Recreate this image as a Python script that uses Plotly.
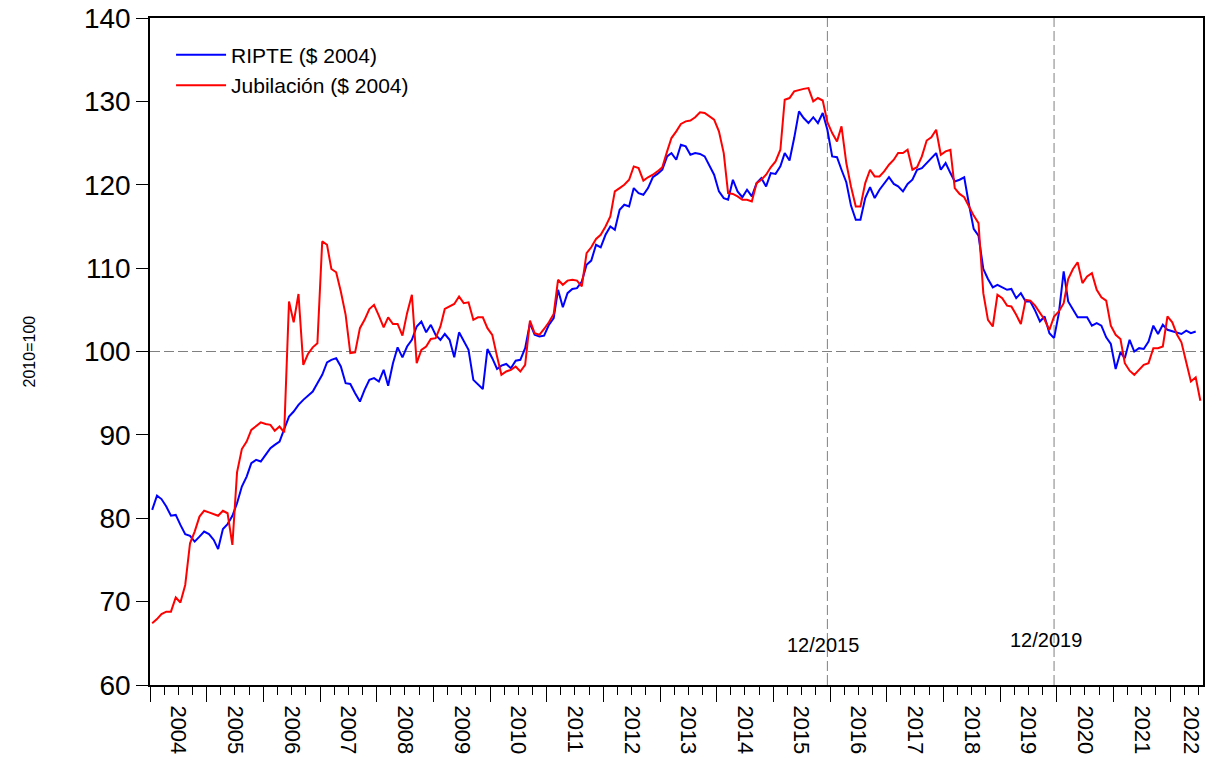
import plotly.graph_objects as go
import pandas as pd

# monthly, 2004M01 - 2022M07, index 2010=100, in constant 2004 pesos
ripte = [
    81.0, 82.7, 82.3, 81.4, 80.3, 80.4, 79.2, 78.1, 77.9, 77.2, 77.8, 78.4,  # 2004
    78.1, 77.4, 76.3, 78.7, 79.3, 80.3, 81.8, 83.8, 85.0, 86.6, 87.0, 86.8,  # 2005
    87.6, 88.4, 88.8, 89.2, 90.7, 92.2, 92.8, 93.6, 94.2, 94.7, 95.2, 96.2,  # 2006
    97.2, 98.7, 99.0, 99.2, 98.2, 96.2, 96.1, 95.0, 94.0, 95.4, 96.6, 96.8,  # 2007
    96.4, 97.8, 95.9, 98.6, 100.5, 99.3, 100.6, 101.4, 103.0, 103.6, 102.3, 103.2,  # 2008
    102.0, 101.4, 102.1, 101.4, 99.3, 102.3, 101.2, 100.2, 96.6, 96.0, 95.5, 100.3,  # 2009
    99.2, 97.9, 98.3, 98.5, 98.0, 98.9, 99.0, 100.4, 103.4, 102.0, 101.8, 101.9,  # 2010
    103.2, 104.0, 107.4, 105.3, 107.0, 107.5, 107.6, 108.4, 110.4, 110.9, 112.8, 112.5,  # 2011
    114.0, 115.0, 114.6, 117.0, 117.6, 117.4, 119.6, 119.0, 118.8, 119.6, 120.9, 121.3,  # 2012
    121.8, 123.4, 123.8, 123.0, 124.8, 124.6, 123.6, 123.8, 123.7, 123.4, 122.2, 121.2,  # 2013
    119.2, 118.4, 118.2, 120.6, 119.2, 118.5, 119.4, 118.6, 120.2, 120.8, 119.8, 121.4,  # 2014
    121.3, 122.2, 123.8, 122.9, 125.6, 128.8, 128.0, 127.4, 128.1, 127.4, 128.6, 126.6,  # 2015
    123.4, 123.3, 121.8, 120.3, 117.5, 115.8, 115.8, 118.4, 119.7, 118.4, 119.4, 120.1,  # 2016
    120.9, 120.1, 119.8, 119.2, 120.1, 120.6, 121.8, 122.0, 122.6, 123.3, 123.8, 121.8,  # 2017
    122.6, 121.4, 120.4, 120.6, 120.9, 117.6, 114.7, 113.9, 109.9, 108.7, 107.7, 108.0,  # 2018
    107.7, 107.4, 107.5, 106.4, 107.0, 106.0, 106.0, 104.9, 103.6, 104.2, 102.2, 101.6,  # 2019
    104.6, 109.6, 106.0, 105.0, 104.1, 104.1, 104.1, 103.1, 103.4, 103.1, 101.7, 100.9,  # 2020
    97.9, 99.9, 99.2, 101.4, 100.0, 100.4, 100.3, 101.2, 103.1, 102.1, 103.2, 102.6,  # 2021
    102.4, 102.2, 102.1, 102.5, 102.2, 102.4, None,  # 2022
]

jubilacion = [
    67.4, 67.9, 68.5, 68.8, 68.8, 70.5, 69.9, 72.0, 77.0, 78.4, 80.2, 80.9,  # 2004
    80.7, 80.5, 80.3, 80.9, 80.6, 76.8, 85.5, 88.3, 89.2, 90.6, 91.1, 91.5,  # 2005
    91.3, 91.2, 90.5, 91.0, 90.3, 106.0, 103.5, 106.9, 98.4, 99.7, 100.5, 101.0,  # 2006
    113.2, 112.8, 109.9, 109.5, 107.2, 104.4, 99.8, 99.9, 102.8, 103.8, 105.1, 105.6,  # 2007
    104.3, 102.9, 104.1, 103.3, 103.3, 101.9, 104.6, 106.8, 98.6, 100.2, 100.6, 101.5,  # 2008
    101.6, 103.0, 105.1, 105.4, 105.7, 106.6, 105.8, 105.9, 103.8, 104.1, 104.1, 102.8,  # 2009
    102.0, 99.4, 97.2, 97.6, 97.8, 98.2, 97.6, 98.4, 103.7, 102.2, 102.0, 102.7,  # 2010
    103.5, 104.5, 108.6, 108.0, 108.5, 108.6, 108.5, 107.8, 111.8, 112.5, 113.5, 114.0,  # 2011
    115.0, 116.2, 119.2, 119.6, 120.0, 120.6, 122.2, 122.0, 120.5, 120.9, 121.2, 121.6,  # 2012
    122.1, 124.0, 125.6, 126.4, 127.3, 127.6, 127.7, 128.1, 128.7, 128.6, 128.2, 127.8,  # 2013
    126.4, 123.8, 119.0, 118.9, 118.6, 118.2, 118.2, 118.0, 120.2, 120.6, 121.2, 122.1,  # 2014
    122.8, 124.2, 130.2, 130.4, 131.2, 131.4, 131.5, 131.6, 130.0, 130.4, 130.1, 127.5,  # 2015
    126.2, 125.2, 127.0, 122.6, 119.8, 117.4, 117.4, 120.2, 121.8, 121.0, 121.0, 121.6,  # 2016
    122.4, 123.0, 123.8, 123.8, 124.2, 121.8, 122.1, 123.4, 125.3, 125.7, 126.6, 123.6,  # 2017
    124.0, 124.2, 119.6, 118.9, 118.5, 117.4, 116.3, 115.4, 107.0, 103.8, 103.0, 106.8,  # 2018
    106.4, 105.5, 105.4, 104.4, 103.3, 106.2, 106.1, 105.5, 104.6, 103.8, 102.6, 104.2,  # 2019
    104.8, 105.8, 108.7, 109.9, 110.7, 108.2, 109.0, 109.4, 107.4, 106.5, 106.1, 103.1,  # 2020
    102.0, 101.5, 98.6, 97.7, 97.2, 97.8, 98.4, 98.6, 100.4, 100.4, 100.6, 104.2,  # 2021
    103.5, 102.0, 101.1, 98.7, 96.4, 96.9, 94.1,  # 2022
]

years = list(range(2004, 2023))
year_labels = [str(y) for y in years]
dates = pd.date_range("2004-01-01", periods=len(jubilacion), freq="MS") + pd.Timedelta(days=14)
marks = ["2015-12-15", "2019-12-15"]
mark_labels = ["12/2015", "12/2019"]
mark_label_y = [64.8, 65.4]

x_range = ["2004-01-01", "2022-08-01"]
# year labels sit mid-year; the last (partial) year is labelled inside the visible part
label_pos = [f"{y}-07-02" for y in years[:-1]] + ["2022-05-15"]

fig = go.Figure()
fig.add_trace(go.Scatter(x=dates, y=ripte, mode="lines", name="RIPTE ($ 2004)",
                         line=dict(color="#0000FF", width=2)))
# second series goes on the overlaid label axis (same range), so that axis gets drawn
fig.add_trace(go.Scatter(x=dates, y=jubilacion, mode="lines", name="Jubilación ($ 2004)",
                         line=dict(color="#FF0000", width=2), xaxis="x2"))

grey = dict(color="#808080", width=1, dash="10px,4px")
fig.add_shape(type="line", xref="paper", x0=0, x1=1, y0=100, y1=100, line=grey, layer="below")
for m, lab, ly, sh in zip(marks, mark_labels, mark_label_y, [-4, -8]):
    fig.add_shape(type="line", x0=m, x1=m, yref="paper", y0=0, y1=1, line=grey, layer="below")
    fig.add_annotation(x=m, y=ly, text=lab, showarrow=False, xshift=sh,
                       font=dict(size=20, color="black"))

fig.add_annotation(text="2010=100", xref="paper", yref="paper", x=-0.114, y=0.5,
                   xanchor="center", yanchor="middle",
                   textangle=-90, showarrow=False, font=dict(size=16, color="black"))

fig.update_layout(
    width=1205, height=765,
    margin=dict(l=150, r=2, t=18, b=80),
    plot_bgcolor="white", paper_bgcolor="white",
    font=dict(family="Liberation Sans, Arial", color="black"),
    showlegend=True,
    legend=dict(x=0.02, y=0.975, xanchor="left", yanchor="top", bgcolor="rgba(0,0,0,0)",
                font=dict(size=21), itemwidth=50, tracegroupgap=0),
    xaxis=dict(
        range=x_range, tickmode="linear", tick0="2004-01-01", dtick="M12",
        showticklabels=False, automargin=False,
        ticks="outside", ticklen=15, tickcolor="black",
        minor=dict(dtick="M3", ticks="outside", ticklen=8, tickcolor="black"),
        showline=True, linecolor="black", linewidth=1.5, mirror=True,
        showgrid=False, zeroline=False,
    ),
    # label-only axis, so the year names fall between the year ticks
    xaxis2=dict(
        overlaying="x", anchor="y", side="bottom", range=x_range,
        tickmode="array", tickvals=label_pos, ticktext=year_labels, tickangle=90,
        ticks="outside", ticklen=15, tickcolor="rgba(0,0,0,0)", tickfont=dict(size=22),
        ticklabeloverflow="allow", automargin=False,
        showline=False, showgrid=False, zeroline=False,
    ),
    yaxis=dict(
        range=[60, 140], dtick=10, ticks="outside", ticklen=12, tickcolor="black",
        ticklabeloverflow="allow", automargin=False,
        tickfont=dict(size=28), showline=True, linecolor="black", linewidth=1.5, mirror=True,
        showgrid=False, zeroline=False,
    ),
)

# drop the page's default 8px body margin so the 1205x765 figure fills the window
fig.write_html("out.html", config={"displayModeBar": False},
               post_script="document.body.style.margin='0';document.body.style.overflow='hidden';")
